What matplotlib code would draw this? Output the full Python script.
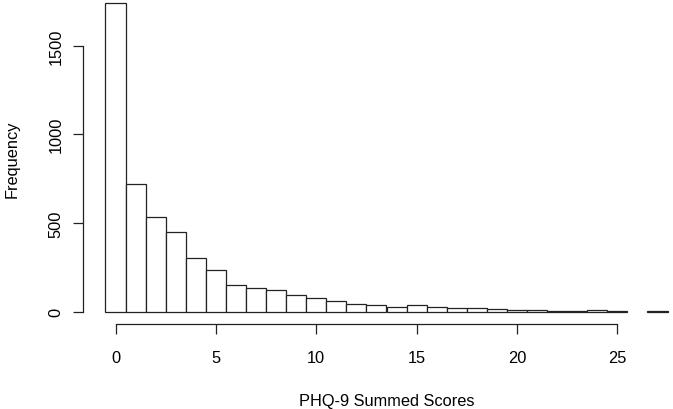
import matplotlib
matplotlib.use("Agg")
import matplotlib.pyplot as plt

# histogram counts, one bin per score (bins centred on 0..27)
scores = list(range(28))
counts = [1740, 720, 532, 449, 304, 233, 152, 135, 123, 92, 77, 60, 43, 38,
          28, 38, 26, 19, 23, 15, 10, 10, 3, 6, 7, 2, 0, 2]
x_ticks = [0, 5, 10, 15, 20, 25]
y_ticks = [0, 500, 1000, 1500]

plt.rcParams['font.family'] = ['Liberation Sans', 'DejaVu Sans']

W, H = 673, 410
fig = plt.figure(figsize=(W / 100, H / 100), dpi=100)

# plot region in pixels (R style, slightly cropped at right/top)
left_px, right_px, top_px, bottom_px = 83, 690, -8.3, 325
ax = fig.add_axes([left_px / W, (H - bottom_px) / H,
                   (right_px - left_px) / W, (bottom_px - top_px) / H])

# only bins with something in them get a rectangle
xs = [s for s, c in zip(scores, counts) if c > 0]
hs = [c for c in counts if c > 0]
ax.bar(xs, hs, width=1.0, color='white', edgecolor='#222222', linewidth=0.9)

# R default 4% padding on both axes
lo, hi = scores[0] - 0.5, scores[-1] + 0.5
pad = (hi - lo) * 0.04
ax.set_xlim(lo - pad, hi + pad)
ymax = max(counts)
ax.set_ylim(-ymax * 0.04, ymax * 1.04)

for side in ['top', 'right']:
    ax.spines[side].set_visible(False)
ax.spines['left'].set_bounds(y_ticks[0], y_ticks[-1])
ax.spines['bottom'].set_bounds(x_ticks[0], x_ticks[-1])
for side in ['left', 'bottom']:
    ax.spines[side].set_linewidth(0.9)
    ax.spines[side].set_color('#222222')

ax.set_xticks(x_ticks)
ax.set_yticks(y_ticks)
ax.tick_params(axis='both', length=7.5, width=0.9, color='#222222', labelsize=11.8)
ax.tick_params(axis='x', pad=11)
ax.tick_params(axis='y', pad=6.5)
for lab in ax.get_yticklabels():
    lab.set_rotation(90)
    lab.set_va('center')

fig.text(386.5 / W, (H - 406) / H, "PHQ-9 Summed Scores", ha='center', va='baseline', fontsize=11.8)
fig.text(12 / W, (H - 159) / H, "Frequency", ha='center', va='center', rotation=90, fontsize=11.8)

fig.savefig("out.png", dpi=100)
plt.close(fig)
